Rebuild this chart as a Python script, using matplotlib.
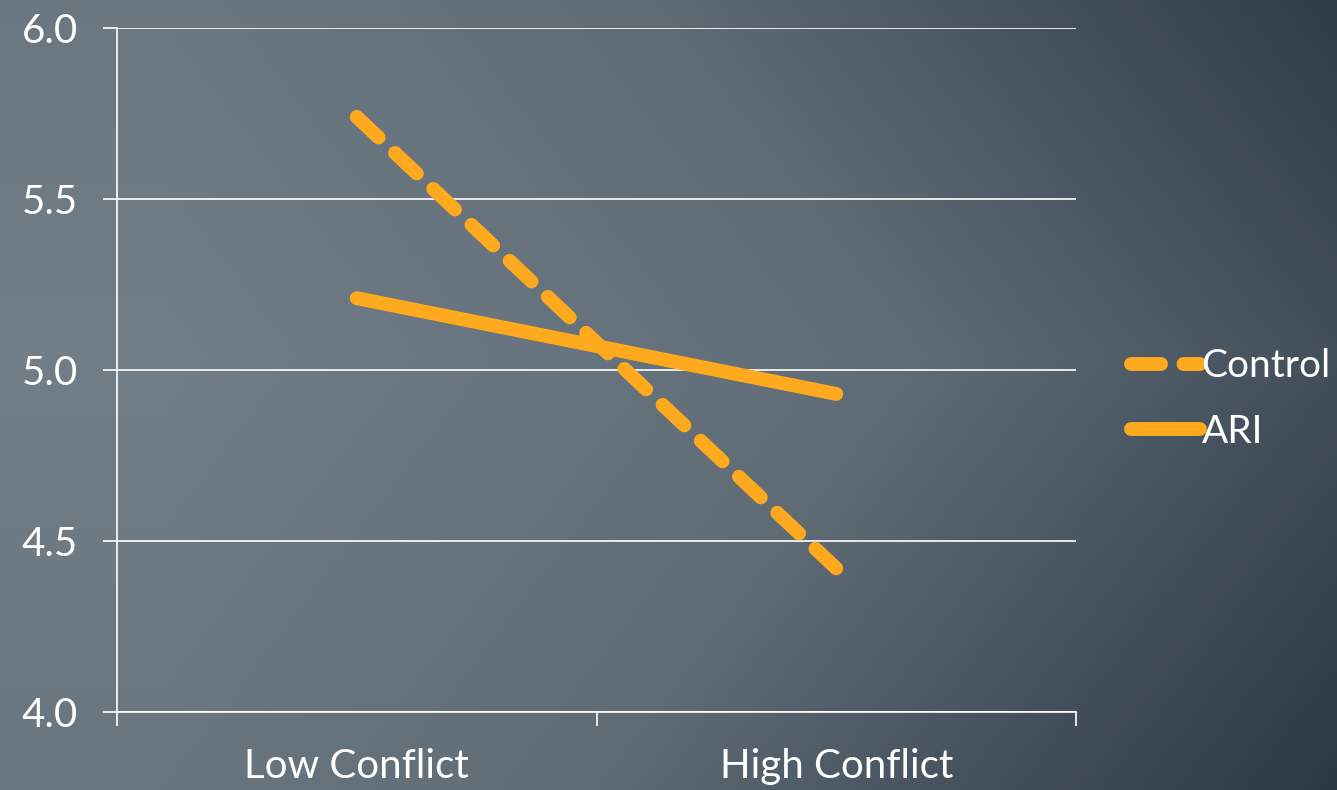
import matplotlib
matplotlib.use("Agg")
import matplotlib.pyplot as plt
import numpy as np
from matplotlib.colors import LinearSegmentedColormap

# chart data
categories = ["Low Conflict", "High Conflict"]
control_vals = [5.74, 4.42]
ari_vals = [5.21, 4.93]
y_ticks = [4.0, 4.5, 5.0, 5.5, 6.0]

ORANGE = "#FFAA1E"
W, H = 1337, 790

plt.rcParams['font.family'] = ['Lato', 'DejaVu Sans']

fig = plt.figure(figsize=(W / 100, H / 100), dpi=100)

# gradient background (lighter left, darker lower right)
bg = fig.add_axes([0, 0, 1, 1], zorder=0)
xx, yy = np.meshgrid(np.linspace(0, 1, 400), np.linspace(0, 1, 240))
t = 0.78 * np.clip(xx - 0.12, 0, None) / 0.88 + 0.22 * np.abs(yy - 0.45) / 0.55
t = np.clip(t, 0, 1)
cmap = LinearSegmentedColormap.from_list("bg", ["#717e88", "#5f6b75", "#2c3845"])
bg.imshow(t, cmap=cmap, aspect="auto", extent=[0, 1, 0, 1], origin="upper")
bg.axis("off")

ax = fig.add_axes([117 / W, 1 - 712 / H, (1076 - 117) / W, (712 - 28) / H], zorder=1)
ax.patch.set_alpha(0)

x = np.arange(len(categories))
ctrl, = ax.plot(x, control_vals, color=ORANGE, lw=10, solid_capstyle="round",
                dash_capstyle="round", label="Control", zorder=3)
ctrl.set_dashes([2.16, 1.62])
ax.plot(x, ari_vals, color=ORANGE, lw=10, solid_capstyle="round", label="ARI", zorder=3)

ax.set_xlim(-0.5, 1.5)
ax.set_ylim(4.0, 6.0)
ax.set_yticks(y_ticks)
ax.set_yticklabels([f"{v:.1f}" for v in y_ticks])
ax.set_xticks(x)
ax.set_xticklabels(categories)
ax.set_xticks([-0.5, 0.5, 1.5], minor=True)

ax.grid(axis="y", color="white", lw=1.2)
ax.set_axisbelow(True)
for s in ["top", "right"]:
    ax.spines[s].set_visible(False)
for s in ["left", "bottom"]:
    ax.spines[s].set_color("white")
    ax.spines[s].set_linewidth(1.2)

ax.tick_params(axis="y", direction="out", length=10, width=1.2, color="white",
               labelcolor="white", labelsize=29, pad=18)
ax.tick_params(axis="x", which="major", length=0, labelcolor="white", labelsize=29, pad=26)
ax.tick_params(axis="x", which="minor", direction="out", length=10, width=1.2, color="white")

leg = fig.legend(loc="center left", bbox_to_anchor=(1112 / W, 1 - 399 / H), frameon=False,
                 fontsize=28, labelcolor="white", handlelength=1.75, handletextpad=0.05,
                 labelspacing=0.75, borderpad=0)

fig.savefig("out.png", dpi=100)
